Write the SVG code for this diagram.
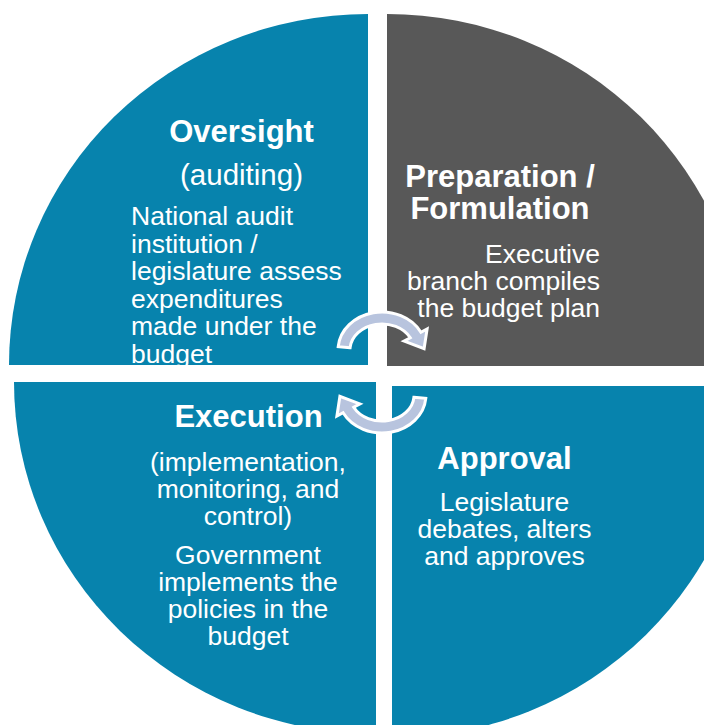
<svg xmlns="http://www.w3.org/2000/svg" width="704" height="725" viewBox="0 0 704 725">
  <style>
    .blue { fill: #0783ad; }
    .gray { fill: #585858; }
    .title { font-family: "Liberation Sans", Arial, sans-serif; font-weight: bold; font-size: 31px; fill: #ffffff; }
    .sub { font-family: "Liberation Sans", Arial, sans-serif; font-size: 29.5px; fill: #ffffff; }
    .body { font-family: "Liberation Sans", Arial, sans-serif; font-size: 26.5px; fill: #ffffff; }
    .arrow { fill: #b8c4de; stroke: #ffffff; stroke-width: 3; stroke-linejoin: miter; }
  </style>
  <defs>
    <path id="cyc" d="M 413.9,397.3 L 425.8,398.3 A 44 38 0 0 1 343.1,412.8 L 336.9,416.1 L 339.9,396.4 L 359.9,403.9 L 353.7,407.2 A 32 26 0 0 0 413.9,397.3 Z"/>
  </defs>
  <rect width="704" height="725" fill="#ffffff"/>

  <g id="oversight">
    <path class="blue" d="M 368,365 L 9,365 A 359 351 0 0 1 368,14 Z"/>
    <text class="title" x="241.5" y="142" text-anchor="middle">Oversight</text>
    <text class="sub" x="241.5" y="185" text-anchor="middle">(auditing)</text>
    <text class="body" x="131" y="225">National audit</text>
    <text class="body" x="131" y="252.5">institution /</text>
    <text class="body" x="131" y="280">legislature assess</text>
    <text class="body" x="131" y="307.5">expenditures</text>
    <text class="body" x="131" y="335">made under the</text>
    <text class="body" x="131" y="362.5">budget</text>
  </g>

  <g id="preparation">
    <path class="gray" d="M 387,366 L 387,14 A 359 352 0 0 1 746,366 Z"/>
    <text class="title" x="500" y="187" text-anchor="middle">Preparation /</text>
    <text class="title" x="500" y="219" text-anchor="middle">Formulation</text>
    <text class="body" x="600" y="263" text-anchor="end">Executive</text>
    <text class="body" x="600" y="290" text-anchor="end">branch compiles</text>
    <text class="body" x="600" y="317" text-anchor="end">the budget plan</text>
  </g>

  <g id="execution">
    <path class="blue" d="M 376,382 L 14,382 A 362 352 0 0 0 376,734 Z"/>
    <text class="title" x="248.5" y="427" text-anchor="middle">Execution</text>
    <text class="body" x="248" y="471" text-anchor="middle">(implementation,</text>
    <text class="body" x="248" y="498" text-anchor="middle">monitoring, and</text>
    <text class="body" x="248" y="525" text-anchor="middle">control)</text>
    <text class="body" x="248" y="564" text-anchor="middle">Government</text>
    <text class="body" x="248" y="591" text-anchor="middle">implements the</text>
    <text class="body" x="248" y="618" text-anchor="middle">policies in the</text>
    <text class="body" x="248" y="645" text-anchor="middle">budget</text>
  </g>

  <g id="approval">
    <path class="blue" d="M 392,386 L 751,386 A 359 352 0 0 1 392,738 Z"/>
    <text class="title" x="504.5" y="469" text-anchor="middle">Approval</text>
    <text class="body" x="504.5" y="511" text-anchor="middle">Legislature</text>
    <text class="body" x="504.5" y="538" text-anchor="middle">debates, alters</text>
    <text class="body" x="504.5" y="565" text-anchor="middle">and approves</text>
  </g>

  <g id="connectors">
    <use href="#cyc" class="arrow" transform="rotate(180 382 372.5)"/>
    <use href="#cyc" class="arrow"/>
  </g>
</svg>
